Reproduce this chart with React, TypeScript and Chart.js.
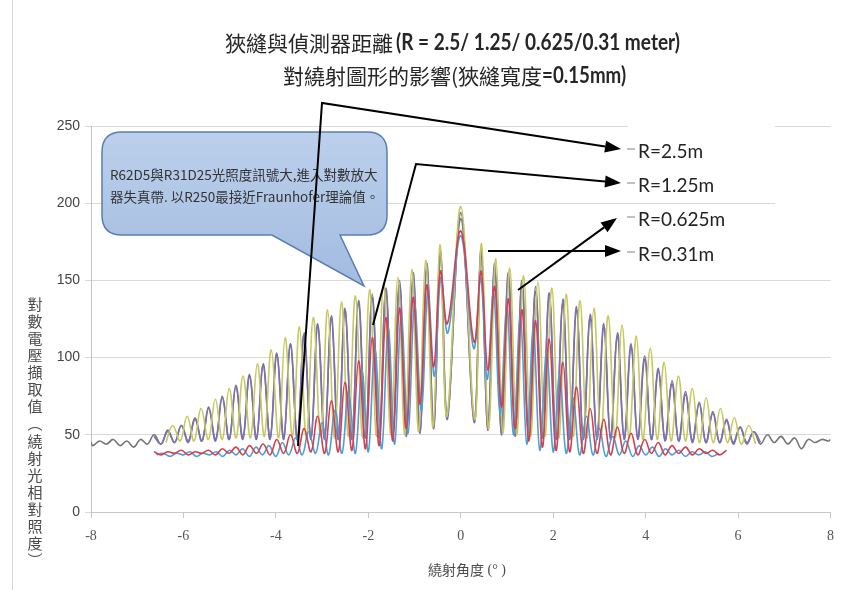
import React, { useEffect, useRef } from 'react';
import { Chart, registerables } from 'chart.js';
Chart.register(...registerables);

// Shared angle grid (degrees): alternating peak / trough positions
const GRID_G = [-8, -7.96, -7.815, -7.665, -7.52, -7.37, -7.225, -7.075, -6.93, -6.78, -6.635, -6.485, -6.34, -6.19, -6.045, -5.895, -5.75, -5.6, -5.455, -5.305, -5.16, -5.01, -4.865, -4.715, -4.57, -4.42, -4.275, -4.125, -3.98, -3.83, -3.685, -3.535, -3.39, -3.24, -3.095, -2.945, -2.8, -2.65, -2.505, -2.355, -2.21, -2.06, -1.915, -1.765, -1.62, -1.47, -1.325, -1.175, -1.03, -0.88, -0.735, -0.585, -0.44, -0.29, 0, 0.29, 0.44, 0.585, 0.735, 0.88, 1.03, 1.175, 1.325, 1.47, 1.62, 1.765, 1.915, 2.06, 2.21, 2.355, 2.505, 2.65, 2.8, 2.945, 3.095, 3.24, 3.39, 3.535, 3.685, 3.83, 3.98, 4.125, 4.275, 4.42, 4.57, 4.715, 4.865, 5.01, 5.16, 5.305, 5.455, 5.6, 5.75, 5.895, 6.045, 6.19, 6.34, 6.485, 6.635, 6.78, 6.93, 7.075, 7.225, 7.37, 7.52, 7.665, 7.815, 7.96, 8];

const GREY_Y = [45, 43, 46, 44, 47, 43, 46, 42, 47, 44, 50, 44, 53, 45, 56, 46, 61, 46, 68, 47, 75, 47, 82, 48, 89, 47, 96, 48, 103, 47, 109, 48, 115, 47, 121, 48, 126, 47, 131, 48, 135, 48, 139, 49, 143, 49, 147, 50, 152, 52, 158, 55, 166, 62, 190,
  60, 167, 54, 158, 51, 152, 50, 147, 49, 143, 48, 139, 48, 135, 47, 131, 48, 126, 47, 120, 48, 114, 47, 107, 48, 99, 47, 91, 47, 83, 46, 76, 46, 70, 45, 64, 45, 59, 45, 55, 45, 52, 44, 50, 45, 49, 44, 48, 41, 47, 45, 47, 46, 47];

const PURPLE_Y = [49, 44, 52, 45, 56, 45, 60, 46, 67, 46, 74, 47, 81, 47, 88, 48, 95, 47, 102, 48, 109, 47, 116, 48, 122, 47, 127, 48, 132, 47, 137, 48, 141, 48, 145, 49, 150, 49, 155, 51, 161, 54, 169, 60, 194,
  58, 170, 53, 161, 50, 155, 49, 150, 48, 146, 48, 142, 47, 138, 48, 133, 47, 128, 48, 122, 47, 116, 48, 109, 47, 101, 47, 93, 46, 85, 46, 78, 45, 71, 45, 65, 45, 60, 44, 55, 44, 52, 45];

const RED_Y = [39, 37, 39, 38, 40, 37, 39, 38, 40, 37, 41, 38, 42, 37, 43, 38, 44, 37, 47, 38, 50, 38, 54, 39, 62, 38, 72, 39, 84, 40, 98, 41, 113, 43, 126, 46, 132, 54, 139, 70, 147, 94, 156, 122, 182,
  110, 156, 92, 146, 68, 138, 54, 131, 46, 124, 42, 112, 40, 97, 39, 81, 38, 67, 38, 60, 37, 55, 38, 51, 37, 47, 38, 45, 37, 43, 38, 42, 37, 41, 38, 40, 37, 40];

const YELLOW_X = [-6.38, -6.23, -6.07, -5.92, -5.77, -5.62, -5.46, -5.31, -5.16, -5.01, -4.86, -4.71, -4.55, -4.40, -4.25, -4.10, -3.94, -3.80, -3.64, -3.49, -3.34, -3.19, -3.03, -2.88, -2.73, -2.58, -2.43, -2.28, -2.12, -1.97, -1.82, -1.67, -1.51, -1.36, -1.21, -1.06, -0.91, -0.76, -0.60, -0.45, -0.30, 0, 0.30, 0.45, 0.60, 0.76, 0.91, 1.06, 1.21, 1.36, 1.51, 1.67, 1.82, 1.97, 2.12, 2.28, 2.43, 2.58, 2.73, 2.88, 3.03, 3.19, 3.34, 3.49, 3.64, 3.80, 3.94, 4.10, 4.25, 4.40, 4.55, 4.71, 4.86, 5.01, 5.16, 5.31, 5.46, 5.62, 5.77, 5.92, 6.07, 6.23, 6.38];
const YELLOW_Y = [45, 56, 46, 62, 46, 67, 47, 73, 47, 80, 48, 88, 48, 96, 49, 105, 48, 113, 49, 120, 48, 126, 49, 131, 48, 136, 49, 140, 48, 144, 49, 148, 50, 152, 50, 157, 52, 163, 55, 173, 62, 198,
  60, 174, 54, 164, 51, 158, 50, 153, 49, 149, 49, 145, 48, 141, 49, 137, 48, 132, 49, 127, 48, 121, 48, 114, 47, 106, 47, 97, 46, 88, 46, 80, 45, 74, 45, 67, 45, 61, 44, 56, 44];

const BLUE_X = [-6.58, -6.44, -6.29, -6.15, -6.00, -5.86, -5.72, -5.58, -5.43, -5.29, -5.15, -5.00, -4.86, -4.72, -4.57, -4.43, -4.29, -4.15, -4.00, -3.86, -3.72, -3.57, -3.43, -3.29, -3.14, -3.00, -2.86, -2.72, -2.57, -2.43, -2.28, -2.14, -2.00, -1.86, -1.71, -1.57, -1.43, -1.29, -1.14, -1.00, -0.85, -0.71, -0.57, -0.43, -0.28, 0, 0.28, 0.43, 0.57, 0.71, 0.85, 1.00, 1.14, 1.29, 1.43, 1.57, 1.71, 1.86, 2.00, 2.14, 2.28, 2.43, 2.57, 2.72, 2.86, 3.00, 3.14, 3.29, 3.43, 3.57, 3.72, 3.86, 4.00, 4.15, 4.29, 4.43, 4.57, 4.72, 4.86, 5.00, 5.15, 5.29, 5.43, 5.58];
const BLUE_Y = [37, 38, 36, 38, 37, 39, 36, 38, 37, 39, 36, 40, 37, 41, 36, 42, 37, 43, 36, 45, 37, 48, 37, 52, 38, 58, 37, 66, 38, 78, 38, 92, 39, 106, 41, 119, 44, 127, 51, 134, 66, 143, 88, 152, 116, 179,
  106, 152, 86, 142, 64, 133, 50, 126, 44, 118, 40, 104, 39, 89, 38, 74, 37, 62, 37, 54, 36, 49, 37, 46, 36, 43, 37, 42, 36, 41, 37, 40, 36, 39, 37, 39, 36, 38];

const X_TICKS = [-8, -6, -4, -2, 0, 2, 4, 6, 8];
const Y_TICKS = [0, 50, 100, 150, 200, 250];
const LEGEND_LABELS = ['R=2.5m', 'R=1.25m', 'R=0.625m', 'R=0.31m'];
const TITLE1_CJK = '狹縫與偵測器距離';
const TITLE1_LATIN = '(R = 2.5/ 1.25/ 0.625/0.31 meter)';
const TITLE2_CJK = '對繞射圖形的影響(狹縫寬度';
const TITLE2_LATIN = '=0.15mm)';
const NOTE_LINES = ['R62D5與R31D25光照度訊號大,進入對數放大', '器失真帶. 以R250最接近Fraunhofer理論值。'];
const X_TITLE_CJK = '繞射角度';
const X_TITLE_REST = ' (° )';
const Y_TITLE = '對數電壓擷取值(繞射光相對照度)';

const CJK = '"Noto Sans CJK TC", "Noto Sans CJK SC", sans-serif';

function zip(xs: number[], ys: number[]) {
  return xs.map((x, i) => ({ x, y: ys[i] }));
}

function arrow(ctx: CanvasRenderingContext2D, pts: number[][]) {
  ctx.save();
  ctx.strokeStyle = '#000';
  ctx.fillStyle = '#000';
  ctx.lineWidth = 2;
  const n = pts.length;
  const [ax, ay] = pts[n - 2];
  const [bx, by] = pts[n - 1];
  const ang = Math.atan2(by - ay, bx - ax);
  const L = 16, W = 6;
  const baseX = bx - L * Math.cos(ang), baseY = by - L * Math.sin(ang);
  ctx.beginPath();
  ctx.moveTo(pts[0][0], pts[0][1]);
  for (let i = 1; i < n - 1; i++) ctx.lineTo(pts[i][0], pts[i][1]);
  ctx.lineTo(baseX, baseY);
  ctx.stroke();
  ctx.beginPath();
  ctx.moveTo(bx, by);
  ctx.lineTo(baseX + W * Math.sin(ang), baseY - W * Math.cos(ang));
  ctx.lineTo(baseX - W * Math.sin(ang), baseY + W * Math.cos(ang));
  ctx.closePath();
  ctx.fill();
  ctx.restore();
}

const overlay = {
  id: 'overlay',
  beforeDatasetsDraw(chart: any) {
    const ctx = chart.ctx as CanvasRenderingContext2D;
    ctx.save();
    ctx.fillStyle = '#fff';
    ctx.fillRect(628, 119, 147, 14);
    ctx.fillRect(775, 196, 69, 14);
    ctx.restore();
  },
  afterDatasetsDraw(chart: any) {
    const ctx = chart.ctx as CanvasRenderingContext2D;
    ctx.save();
    ctx.strokeStyle = '#d8d8d8';
    ctx.lineWidth = 1;
    ctx.beginPath();
    ctx.moveTo(12.5, 0);
    ctx.lineTo(12.5, 590);
    ctx.stroke();

    // titles
    ctx.textBaseline = 'middle';
    ctx.fillStyle = '#262626';
    ctx.font = `21px ${CJK}`;
    ctx.fillText(TITLE1_CJK, 225, 43);
    let w = ctx.measureText(TITLE1_CJK).width;
    ctx.font = 'bold 22px Lato, "Open Sans", sans-serif';
    ctx.fillText(TITLE1_LATIN, 225 + w + 3, 43, 284);
    ctx.font = `21px ${CJK}`;
    ctx.fillText(TITLE2_CJK, 283, 76);
    w = ctx.measureText(TITLE2_CJK).width;
    ctx.font = 'bold 22px Lato, "Open Sans", sans-serif';
    ctx.fillText(TITLE2_LATIN, 283 + w, 76, 84);

    // callout
    const L = 102, T = 132, R = 387, B = 235, r = 20;
    ctx.beginPath();
    ctx.moveTo(L + r, T);
    ctx.lineTo(R - r, T);
    ctx.quadraticCurveTo(R, T, R, T + r);
    ctx.lineTo(R, B - r);
    ctx.quadraticCurveTo(R, B, R - r, B);
    ctx.lineTo(340, B);
    ctx.lineTo(364, 286);
    ctx.lineTo(272, B);
    ctx.lineTo(L + r, B);
    ctx.quadraticCurveTo(L, B, L, B - r);
    ctx.lineTo(L, T + r);
    ctx.quadraticCurveTo(L, T, L + r, T);
    ctx.closePath();
    const g = ctx.createLinearGradient(0, T, 0, 286);
    g.addColorStop(0, '#bcd0ec');
    g.addColorStop(1, '#a2bbe0');
    ctx.fillStyle = g;
    ctx.fill();
    ctx.strokeStyle = '#5b7db2';
    ctx.lineWidth = 1.5;
    ctx.stroke();
    ctx.fillStyle = '#333';
    ctx.font = `13.5px ${CJK}`;
    ctx.fillText(NOTE_LINES[0], 110, 175);
    ctx.fillText(NOTE_LINES[1], 110, 197);

    // legend
    const ly = [152, 186, 220, 255];
    ctx.font = '19px Lato, "Open Sans", sans-serif';
    LEGEND_LABELS.forEach((t, i) => {
      ctx.strokeStyle = '#aaaaaa';
      ctx.lineWidth = 1.5;
      ctx.beginPath();
      ctx.moveTo(627, ly[i] - 3);
      ctx.lineTo(635, ly[i] - 3);
      ctx.stroke();
      ctx.fillStyle = '#222';
      ctx.fillText(t, 638, ly[i]);
    });

    // arrows
    arrow(ctx, [[298, 446], [322, 103], [621, 149]]);
    arrow(ctx, [[373, 325], [416, 164], [621, 183]]);
    arrow(ctx, [[518, 290], [617, 218]]);
    arrow(ctx, [[488, 251], [621, 251]]);

    // axis titles
    ctx.fillStyle = '#4a4a4a';
    ctx.font = `14px ${CJK}`;
    ctx.textAlign = 'left';
    const xw = ctx.measureText(X_TITLE_CJK).width;
    ctx.fillText(X_TITLE_CJK, 428, 570);
    ctx.font = '14px "Liberation Serif", serif';
    ctx.fillText(X_TITLE_REST, 428 + xw, 570);

    ctx.font = `15px ${CJK}`;
    ctx.textAlign = 'center';
    Array.from(Y_TITLE).forEach((c, i) => {
      const ch = c === '(' ? '︵' : c === ')' ? '︶' : c;
      ctx.fillText(ch, 35, 304 + i * 17.1);
    });
    ctx.restore();
  },
};

export default function App() {
  const ref = useRef<HTMLCanvasElement>(null);
  useEffect(() => {
    document.body.style.margin = '0';
    const ds = (label: string, data: any[], color: string, order: number) => ({
      label, data, borderColor: color, backgroundColor: color, borderWidth: 1.6,
      pointRadius: 0, tension: 0.4, fill: false, order,
    });
    const chart = new Chart(ref.current!, {
      type: 'line',
      data: {
        datasets: [
          ds('R=2.5m', zip(YELLOW_X, YELLOW_Y), '#c6c95c', 3),
          ds('R=1.25m', zip(GRID_G.slice(10, 98), PURPLE_Y), '#7d70b6', 4),
          ds('R=0.625m', zip(GRID_G.slice(10, 93), RED_Y), '#d3404f', 1),
          ds('R=0.31m', zip(BLUE_X, BLUE_Y), '#4c9fd6', 2),
          ds('R=2.5m full', zip(GRID_G, GREY_Y), '#75757a', 5),
        ],
      },
      options: {
        animation: false,
        responsive: false,
        devicePixelRatio: 1,
        layout: { padding: { top: 126, right: 8, left: 0, bottom: 0 } },
        plugins: { legend: { display: false }, title: { display: false }, tooltip: { enabled: false } },
        scales: {
          x: {
            type: 'linear', min: -8, max: 8,
            afterBuildTicks: (s: any) => { s.ticks = X_TICKS.map((v) => ({ value: v })); },
            afterFit: (s: any) => { s.height = 78; },
            ticks: { font: { family: '"Liberation Serif", serif', size: 14 }, color: '#555', padding: 10 },
            grid: { drawOnChartArea: false, drawTicks: true, tickLength: 6, color: '#c8c8c8' },
            border: { color: '#c8c8c8' },
          },
          y: {
            min: 0, max: 250,
            afterBuildTicks: (s: any) => { s.ticks = Y_TICKS.map((v) => ({ value: v })); },
            afterFit: (s: any) => { s.width = 91; },
            ticks: { font: { family: '"Liberation Sans", sans-serif', size: 14 }, color: '#444', padding: 5 },
            grid: { color: '#d9d9d9', tickLength: 6 },
            border: { color: '#c4c4c4' },
          },
        },
      },
      plugins: [overlay],
    });
    return () => chart.destroy();
  }, []);
  return (
    <div style={{ width: 844, height: 590, background: '#fff' }}>
      <canvas ref={ref} width={844} height={590} />
    </div>
  );
}
